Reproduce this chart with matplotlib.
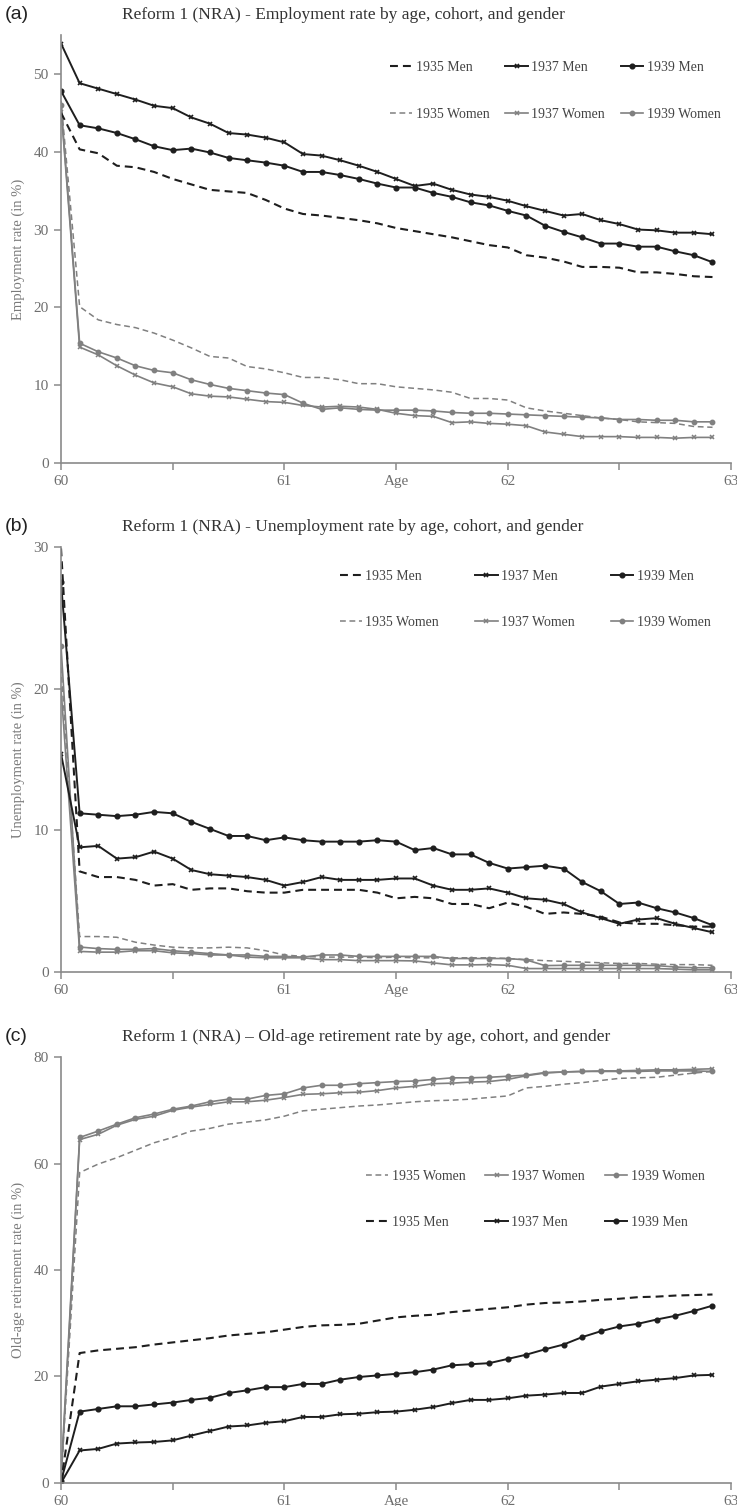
import numpy as np
import matplotlib
matplotlib.use("Agg")
import matplotlib.pyplot as plt

# ages, monthly from 60 to 62 11/12
ages = 60 + np.arange(36) / 12

# (a) employment rate
emp_m35 = [45.0, 40.3, 39.8, 38.2, 38.0, 37.4, 36.5, 35.8, 35.1, 34.9, 34.7, 33.8, 32.7, 32.0, 31.8, 31.5, 31.2, 30.8,
           30.2, 29.8, 29.4, 29.0, 28.5, 28.0, 27.7, 26.7, 26.4, 25.9, 25.2, 25.2, 25.1, 24.5, 24.5, 24.3, 24.0, 23.9]
emp_m37 = [53.9, 48.8, 48.1, 47.4, 46.7, 45.9, 45.6, 44.4, 43.6, 42.4, 42.2, 41.8, 41.2, 39.7, 39.5, 38.9, 38.2, 37.4,
           36.5, 35.6, 35.9, 35.1, 34.5, 34.2, 33.7, 33.0, 32.4, 31.8, 32.0, 31.2, 30.7, 30.0, 29.9, 29.6, 29.6, 29.4]
emp_m39 = [47.8, 43.4, 43.0, 42.4, 41.6, 40.7, 40.2, 40.4, 39.9, 39.2, 38.9, 38.6, 38.2, 37.4, 37.4, 37.0, 36.5, 35.9,
           35.4, 35.4, 34.7, 34.2, 33.5, 33.1, 32.4, 31.8, 30.5, 29.7, 29.0, 28.2, 28.2, 27.8, 27.8, 27.2, 26.7, 25.8]
emp_w35 = [46.5, 20.1, 18.4, 17.8, 17.4, 16.7, 15.8, 14.8, 13.7, 13.5, 12.4, 12.1, 11.6, 11.0, 11.0, 10.7, 10.2, 10.2,
           9.8, 9.6, 9.4, 9.1, 8.3, 8.3, 8.1, 7.1, 6.7, 6.4, 6.1, 5.8, 5.6, 5.3, 5.2, 5.1, 4.7, 4.6]
emp_w37 = [45.5, 14.9, 13.9, 12.5, 11.3, 10.3, 9.8, 8.9, 8.6, 8.5, 8.2, 7.9, 7.8, 7.4, 7.2, 7.3, 7.2, 6.9,
           6.4, 6.1, 6.0, 5.2, 5.3, 5.1, 5.0, 4.8, 4.0, 3.7, 3.4, 3.4, 3.4, 3.3, 3.3, 3.2, 3.3, 3.3]
emp_w39 = [46.0, 15.4, 14.3, 13.5, 12.5, 11.9, 11.6, 10.7, 10.1, 9.6, 9.3, 9.0, 8.8, 7.7, 6.9, 7.1, 6.9, 6.8,
           6.8, 6.8, 6.7, 6.5, 6.4, 6.4, 6.3, 6.2, 6.1, 6.0, 5.9, 5.8, 5.6, 5.6, 5.5, 5.5, 5.3, 5.3]

# (b) unemployment rate
un_m35 = [29.9, 7.1, 6.7, 6.7, 6.5, 6.1, 6.2, 5.8, 5.9, 5.9, 5.7, 5.6, 5.6, 5.8, 5.8, 5.8, 5.8, 5.6,
          5.2, 5.3, 5.2, 4.8, 4.8, 4.5, 4.9, 4.6, 4.1, 4.2, 4.1, 3.9, 3.5, 3.4, 3.4, 3.3, 3.2, 3.2]
un_m37 = [15.4, 8.8, 8.9, 8.0, 8.1, 8.5, 8.0, 7.2, 6.9, 6.8, 6.7, 6.5, 6.1, 6.35, 6.7, 6.5, 6.5, 6.5,
          6.6, 6.6, 6.1, 5.8, 5.8, 5.9, 5.6, 5.2, 5.1, 4.8, 4.2, 3.8, 3.4, 3.7, 3.8, 3.4, 3.1, 2.8]
un_m39 = [27.5, 11.2, 11.1, 11.0, 11.1, 11.3, 11.2, 10.6, 10.1, 9.6, 9.6, 9.3, 9.5, 9.3, 9.2, 9.2, 9.2, 9.3,
          9.2, 8.6, 8.75, 8.3, 8.3, 7.7, 7.3, 7.4, 7.5, 7.3, 6.35, 5.7, 4.8, 4.9, 4.5, 4.2, 3.8, 3.3]
un_w35 = [21.5, 2.5, 2.5, 2.45, 2.1, 1.9, 1.75, 1.7, 1.7, 1.75, 1.7, 1.5, 1.2, 1.1, 1.05, 1.05, 1.05, 1.0,
          1.05, 1.0, 1.0, 1.0, 1.0, 1.0, 0.95, 0.87, 0.8, 0.75, 0.7, 0.65, 0.6, 0.6, 0.55, 0.52, 0.52, 0.47]
un_w37 = [20.0, 1.45, 1.4, 1.4, 1.5, 1.5, 1.35, 1.3, 1.2, 1.2, 1.05, 1.0, 1.0, 1.0, 0.87, 0.87, 0.8, 0.8,
          0.8, 0.78, 0.64, 0.5, 0.5, 0.52, 0.47, 0.24, 0.24, 0.24, 0.24, 0.24, 0.24, 0.24, 0.24, 0.2, 0.15, 0.15]
un_w39 = [23.0, 1.76, 1.65, 1.6, 1.6, 1.65, 1.5, 1.4, 1.3, 1.2, 1.2, 1.1, 1.1, 1.05, 1.2, 1.2, 1.1, 1.1,
          1.1, 1.1, 1.1, 0.95, 0.95, 0.95, 0.95, 0.85, 0.45, 0.47, 0.47, 0.47, 0.47, 0.47, 0.45, 0.35, 0.3, 0.3]

# (c) old-age retirement rate
ret_w35 = [0.5, 58.3, 59.9, 61.1, 62.5, 63.9, 64.9, 66.1, 66.6, 67.4, 67.8, 68.2, 68.9, 69.9, 70.2, 70.5, 70.8, 71.0,
           71.3, 71.6, 71.8, 71.9, 72.1, 72.4, 72.7, 74.2, 74.5, 74.9, 75.2, 75.6, 76.0, 76.1, 76.2, 76.6, 77.0, 77.3]
ret_w37 = [0.3, 64.5, 65.5, 67.2, 68.3, 68.9, 70.0, 70.6, 71.1, 71.6, 71.6, 71.9, 72.4, 73.0, 73.1, 73.3, 73.4, 73.7,
           74.2, 74.5, 75.0, 75.1, 75.3, 75.4, 75.8, 76.5, 77.0, 77.2, 77.3, 77.4, 77.4, 77.5, 77.6, 77.6, 77.7, 77.8]
ret_w39 = [1.5, 64.9, 66.1, 67.4, 68.6, 69.3, 70.2, 70.8, 71.6, 72.1, 72.1, 72.8, 73.1, 74.2, 74.7, 74.7, 75.0, 75.2,
           75.4, 75.5, 75.8, 76.1, 76.1, 76.2, 76.4, 76.6, 77.1, 77.2, 77.3, 77.3, 77.3, 77.3, 77.4, 77.4, 77.4, 77.3]
ret_m35 = [0.0, 24.4, 24.9, 25.2, 25.5, 26.0, 26.4, 26.8, 27.2, 27.7, 28.0, 28.3, 28.8, 29.3, 29.6, 29.7, 29.9, 30.5,
           31.1, 31.4, 31.6, 32.1, 32.4, 32.7, 33.0, 33.5, 33.8, 33.9, 34.1, 34.4, 34.6, 34.9, 35.0, 35.2, 35.3, 35.4]
ret_m37 = [0.0, 6.1, 6.4, 7.4, 7.6, 7.7, 8.0, 8.9, 9.75, 10.6, 10.8, 11.3, 11.6, 12.4, 12.4, 12.9, 13.0, 13.3,
           13.4, 13.75, 14.25, 15.0, 15.6, 15.6, 15.9, 16.4, 16.6, 16.9, 16.9, 18.1, 18.6, 19.1, 19.4, 19.7, 20.2, 20.3]
ret_m39 = [0.3, 13.4, 13.9, 14.4, 14.4, 14.75, 15.1, 15.6, 16.0, 16.9, 17.4, 18.0, 18.0, 18.6, 18.6, 19.4, 19.9, 20.2,
           20.5, 20.8, 21.3, 22.1, 22.3, 22.5, 23.3, 24.1, 25.1, 26.0, 27.4, 28.5, 29.4, 29.9, 30.7, 31.4, 32.3, 33.3]

BLACK = "#1e1e1e"
GREY = "#808080"
AXIS = "#8a8a8a"
TICKTXT = "#6e6e6e"
SERIF = "Liberation Serif"

plt.rcParams["font.family"] = SERIF

# line styles per series
styles = {
    "1935 Men": dict(color=BLACK, lw=1.5, ls=(0, (3.8, 2.4))),
    "1937 Men": dict(color=BLACK, lw=1.4, marker="x", ms=2.6, mew=1.2),
    "1939 Men": dict(color=BLACK, lw=1.4, marker="o", ms=3.4),
    "1935 Women": dict(color=GREY, lw=1.1, ls=(0, (3.8, 2.4))),
    "1937 Women": dict(color=GREY, lw=1.2, marker="x", ms=2.6, mew=1.1),
    "1939 Women": dict(color=GREY, lw=1.2, marker="o", ms=3.2),
}


def draw_panel(ax, series, ymax, ystep, title, letter, ylabel, legend_order, leg_x, leg_y, colsp, lspace):
    for name, vals in series.items():
        ax.plot(ages, vals, label=name, **styles[name])

    ax.set_xlim(60, 63)
    ax.set_ylim(0, ymax)
    ax.set_xticks(np.arange(60, 63.01, 0.5))
    ax.set_xticklabels(["60", "", "61", "", "62", "", "63"])
    ax.set_yticks(np.arange(0, ymax + 0.1, ystep))
    for side in ["top", "right"]:
        ax.spines[side].set_visible(False)
    for side in ["left", "bottom"]:
        ax.spines[side].set_color(AXIS)
        ax.spines[side].set_linewidth(1.2)
    ax.tick_params(direction="out", length=5, width=1.1, color=AXIS, labelcolor=TICKTXT, labelsize=11)
    ax.tick_params(axis="y", pad=4)

    # axis title "Age" sits among the tick labels
    ax.annotate("Age", xy=(61.5, 0), xycoords=("data", "axes fraction"), xytext=(0, -8.5),
                textcoords="offset points", ha="center", va="top", fontsize=11, color=TICKTXT)
    ax.set_ylabel(ylabel, fontsize=10.5, color="#7a7a7a", labelpad=6)

    ax.text(0.1655, ax.get_position().y1 + 0.0135, title, transform=ax.figure.transFigure,
            ha="left", va="center", fontsize=12.5, color="#333333")
    ax.text(0.006, ax.get_position().y1 + 0.0135, letter, transform=ax.figure.transFigure,
            ha="left", va="center", fontsize=14, family="Liberation Sans", color="#222222")

    handles, labels = ax.get_legend_handles_labels()
    lookup = dict(zip(labels, handles))
    hs = [lookup[n] for n in legend_order]
    ax.legend(hs, legend_order, ncol=3, loc="upper left", bbox_to_anchor=(leg_x, leg_y),
              frameon=False, fontsize=10, handlelength=1.6, handletextpad=0.25,
              labelspacing=lspace, columnspacing=colsp, borderpad=0, borderaxespad=0,
              labelcolor="#444444")


fig = plt.figure(figsize=(7.37, 15.06), dpi=100)
ax_a = fig.add_axes([0.0828, 0.6925, 0.9092, 0.2843])
ax_b = fig.add_axes([0.0828, 0.3546, 0.9092, 0.2822])
ax_c = fig.add_axes([0.0828, 0.0153, 0.9092, 0.2828])

men_first = ["1935 Men", "1935 Women", "1937 Men", "1937 Women", "1939 Men", "1939 Women"]
women_first = ["1935 Women", "1935 Men", "1937 Women", "1937 Men", "1939 Women", "1939 Men"]

draw_panel(ax_a,
           {"1935 Women": emp_w35, "1937 Women": emp_w37, "1939 Women": emp_w39,
            "1935 Men": emp_m35, "1937 Men": emp_m37, "1939 Men": emp_m39},
           55, 10, "Reform 1 (NRA) - Employment rate by age, cohort, and gender", "(a)",
           "Employment rate (in %)", men_first, 0.491, 0.94, 1.15, 2.5)

draw_panel(ax_b,
           {"1935 Women": un_w35, "1937 Women": un_w37, "1939 Women": un_w39,
            "1935 Men": un_m35, "1937 Men": un_m37, "1939 Men": un_m39},
           30, 10, "Reform 1 (NRA) - Unemployment rate by age, cohort, and gender", "(b)",
           "Unemployment rate (in %)", men_first, 0.416, 0.946, 2.6, 2.4)

draw_panel(ax_c,
           {"1935 Women": ret_w35, "1937 Women": ret_w37, "1939 Women": ret_w39,
            "1935 Men": ret_m35, "1937 Men": ret_m37, "1939 Men": ret_m39},
           80, 20, "Reform 1 (NRA) \u2013 Old-age retirement rate by age, cohort, and gender", "(c)",
           "Old-age retirement rate (in %)", women_first, 0.455, 0.735, 1.45, 2.35)

fig.savefig("out.png", dpi=100)
